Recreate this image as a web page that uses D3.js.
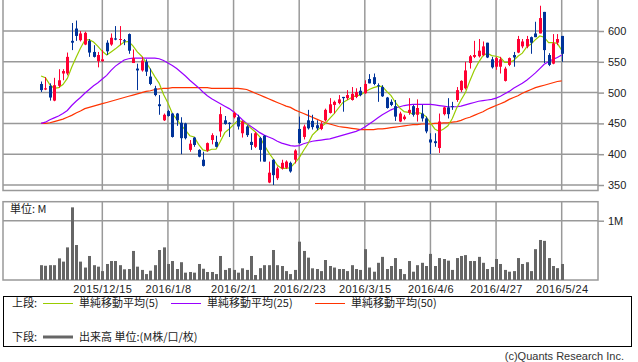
<!DOCTYPE html>
<html lang="ja">
<head>
<meta charset="utf-8">
<title>株価チャート</title>
<script src="https://cdn.jsdelivr.net/npm/d3@7"></script>
<style>
  * { margin: 0; padding: 0; }
  body { background: #fff; }
  svg { display: block; font-family: "Liberation Sans", Arial, sans-serif; }
  .grid line { stroke: #999; stroke-width: 1.5; }
  .frame { fill: none; stroke: #999; stroke-width: 1.5; }
  .axis text { font-size: 11px; fill: #222; }
  .axis line { stroke: #999; stroke-width: 1.5; }
  .jp { font-family: "Noto Sans CJK JP", sans-serif; font-size: 11px; fill: #222; }
  .ma { fill: none; stroke-width: 1.2; }
</style>
</head>
<body>
<div id="chart"></div>
<script>
var w = 638, h = 362;

// date ticks (index of trading day) and their labels
var tickIdx = [14, 29, 44, 59, 74, 89, 104, 119];
var tickLabels = ["2015/12/15", "2016/1/8", "2016/2/1", "2016/2/23", "2016/3/15", "2016/4/6", "2016/4/27", "2016/5/24"];
var priceTicks = [350, 400, 450, 500, 550, 600];

var opens = [514,505,511,487,511,531,531,584,604,585, 578,584,566,551,551,581,578,588,586,585,
  595,548,539,536,550,526,507,481,455,470, 466,466,451,450,407,427,407,391,406,423,
  420,437,455,451,460,460,434,445,420,412, 426,430,354,391,361,377,378,386,391,441,
  428,455,454,447,441,455,467,480,483,493, 491,488,493,503,499,522,525,512,509,492,
  485,478,453,457,467,478,464,466,458,424, 421,410,465,476,478,488,504,507,548,558,
  559,561,581,554,542,542,519,545,561,565, 575,575,590,596,596,631,561,547,581,592];
var highs = [518,525,515,524,538,538,565,613,617,600, 599,587,577,566,569,585,596,608,608,587,
  596,570,547,558,554,539,511,496,466,472, 467,467,460,451,423,428,408,404,419,434,
  430,477,462,452,469,464,455,447,434,436, 428,431,388,392,380,391,390,388,408,461,
  448,472,464,455,453,474,491,487,496,493, 504,509,507,509,520,530,531,515,512,493,
  489,488,469,464,491,480,489,480,461,434, 434,466,477,491,485,509,520,550,561,584,
  587,583,581,558,558,558,542,557,566,592, 587,592,591,615,641,631,564,595,595,592];
var lows = [501,504,487,486,508,520,528,569,584,583, 577,558,557,541,550,561,576,585,577,577,
  563,548,504,534,527,512,494,464,454,461, 427,446,400,424,404,412,395,380,404,416,
  411,428,448,428,458,440,427,428,407,410, 388,388,353,350,358,375,376,370,385,417,
  424,440,440,439,439,453,466,466,481,469, 488,487,491,494,498,515,512,485,493,474,
  478,454,452,455,464,461,453,453,434,400, 412,402,463,458,472,485,501,505,539,556,
  557,559,556,539,537,531,518,543,542,564, 572,572,563,590,596,548,543,546,577,550];
var closes = [504,507,492,512,520,535,558,581,592,596, 597,565,558,561,554,567,589,586,587,583,
  568,556,536,552,534,514,496,478,464,462, 428,455,426,426,417,415,396,381,418,431,
  412,465,449,449,467,445,453,431,415,434, 407,388,370,366,377,386,388,372,406,418,
  445,442,444,442,449,472,481,485,489,491, 496,498,501,496,514,515,514,511,494,475,
  480,461,466,461,472,464,475,458,437,419, 418,453,476,465,477,504,519,536,559,561,
  568,575,557,541,556,554,539,556,557,587, 583,587,581,590,621,569,545,580,587,563];

var ma5 = [527,524,513,507,508,513,523,541,557,572, 585,586,582,575,567,561,566,571,577,582,
  583,576,566,559,549,538,526,515,497,483, 466,457,447,439,430,428,416,407,405,408,
  408,421,435,441,448,455,453,449,442,436, 428,415,403,393,382,377,377,378,386,394,
  406,417,431,438,444,450,458,466,475,484, 488,492,495,496,501,505,508,510,510,502,
  495,484,475,469,468,465,468,466,461,451, 441,437,441,446,458,475,488,500,519,536,
  549,560,564,560,559,557,549,549,552,559, 564,574,579,586,592,590,581,581,580,569];
var ma25 = [450,452,456,459,462,466,471,479,486,492, 499,505,511,516,522,528,536,543,548,553,
  555,556,556,556,556,556,556,555,552,548, 544,539,533,527,520,514,508,501,495,490,
  486,482,478,474,469,463,456,450,445,440, 435,431,428,425,421,418,416,414,413,414,
  417,419,421,422,423,424,425,427,429,431, 433,435,437,440,444,449,454,459,464,468,
  472,475,477,479,480,481,481,481,481,481, 480,479,478,477,477,477,478,480,482,484,
  486,487,488,489,491,494,498,502,507,511, 515,520,526,532,539,546,550,554,557,561];
var ma50 = [450,450,451,453,455,457,460,463,467,470, 474,476,478,480,482,484,486,488,490,492,
  494,496,498,500,502,503,505,506,507,507, 508,508,508,508,508,508,508,508,508,507,
  507,507,507,507,507,507,506,505,502,499, 496,493,490,487,484,481,478,476,472,469,
  466,463,460,457,454,451,449,447,445,444, 443,442,441,440,440,440,440,441,441,442,
  443,444,445,446,447,448,448,449,449,449, 450,450,451,451,452,453,455,458,460,463,
  466,469,473,476,479,482,485,489,492,495, 499,502,505,508,510,512,514,516,518,519];

// volume, millions
var volume = [0.25,0.24,0.25,0.25,0.365,0.31,0.55,1.225,0.59,0.31, 0.21,0.405,0.25,0.225,0.15,0.27,0.32,0.32,0.25,0.18,
  0.185,0.49,0.225,0.17,0.10,0.157,0.25,0.506,0.55,0.27, 0.32,0.185,0.30,0.124,0.135,0.124,0.27,0.19,0.135,0.135,
  0.10,0.405,0.17,0.20,0.17,0.124,0.197,0.17,0.405,0.084, 0.20,0.25,0.25,0.506,0.25,0.236,0.15,0.10,0.17,0.646,
  0.49,0.377,0.197,0.185,0.15,0.337,0.236,0.21,0.185,0.185, 0.15,0.25,0.185,0.17,0.52,0.21,0.14,0.29,0.39,0.185,
  0.236,0.37,0.185,0.10,0.32,0.14,0.25,0.29,0.236,0.44, 0.236,0.37,0.354,0.326,0.17,0.37,0.405,0.42,0.32,0.32,
  0.39,0.29,0.185,0.22,0.354,0.27,0.17,0.14,0.15,0.37, 0.27,0.30,0.15,0.52,0.675,0.66,0.37,0.236,0.20,0.27];

var legendItems = [
  {label: "単純移動平均(5)", color: "#99cc00", x: 43},
  {label: "単純移動平均(25)", color: "#9900ff", x: 171},
  {label: "単純移動平均(50)", color: "#ff3300", x: 315}
];

var candles = opens.map(function(o, i) {
  return {i: i, o: o, h: highs[i], l: lows[i], c: closes[i], v: volume[i]};
});

var svg = d3.select("#chart").append("svg")
    .attr("width", w)
    .attr("height", h);

// scales
var left = 3, right = 598;
var x = d3.scaleLinear().domain([-8.7, 127.3]).range([left, right]);
var y = d3.scaleLinear().domain([350, 600]).range([185, 31]);
var yv = d3.scaleLinear().domain([0, 1]).range([280, 220.7]);

var upTop = -2, upBottom = 190.5;
var volTop = 201.7, volBottom = 280;

// grid
var grid = svg.append("g").attr("class", "grid");
grid.selectAll(".hp").data(priceTicks).enter().append("line")
    .attr("x1", left).attr("x2", right)
    .attr("y1", function(d) { return y(d); })
    .attr("y2", function(d) { return y(d); });
grid.selectAll(".vu").data(tickIdx).enter().append("line")
    .attr("x1", function(d) { return x(d); })
    .attr("x2", function(d) { return x(d); })
    .attr("y1", upTop).attr("y2", upBottom);
grid.selectAll(".vv").data(tickIdx).enter().append("line")
    .attr("x1", function(d) { return x(d); })
    .attr("x2", function(d) { return x(d); })
    .attr("y1", volTop).attr("y2", volBottom);
grid.append("line")
    .attr("x1", left).attr("x2", right)
    .attr("y1", yv(1)).attr("y2", yv(1));

// frames
svg.append("rect").attr("class", "frame")
    .attr("x", left).attr("y", upTop)
    .attr("width", right - left).attr("height", upBottom - upTop);
svg.append("rect").attr("class", "frame")
    .attr("x", left).attr("y", volTop)
    .attr("width", right - left).attr("height", volBottom - volTop);

// right price axis
var yAxis = d3.axisRight(y).tickValues(priceTicks).tickSize(6).tickPadding(4);
var ya = svg.append("g").attr("class", "axis")
    .attr("transform", "translate(" + right + ",0)")
    .call(yAxis);
ya.select(".domain").remove();

var vAxis = d3.axisRight(yv).tickValues([1]).tickSize(6).tickPadding(4)
    .tickFormat(function(d) { return d + "M"; });
var va = svg.append("g").attr("class", "axis")
    .attr("transform", "translate(" + right + ",0)")
    .call(vAxis);
va.select(".domain").remove();

// date labels
var xAxis = d3.axisBottom(x).tickValues(tickIdx).tickSize(0).tickPadding(5)
    .tickFormat(function(d, i) { return tickLabels[i]; });
var xa = svg.append("g").attr("class", "axis")
    .attr("transform", "translate(0," + volBottom + ")")
    .call(xAxis);
xa.select(".domain").remove();
xa.selectAll("text").style("letter-spacing", "0.4px");

// moving averages
function maLine(arr) {
  return d3.line()
    .x(function(d, i) { return x(i); })
    .y(function(d) { return y(d); })(arr);
}
svg.append("path").attr("class", "ma").attr("stroke", "#ff3300").attr("d", maLine(ma50));
svg.append("path").attr("class", "ma").attr("stroke", "#9900ff").attr("d", maLine(ma25));
svg.append("path").attr("class", "ma").attr("stroke", "#99cc00").attr("d", maLine(ma5));

// candles
function candleColor(d) { return d.c >= d.o ? "#ff0033" : "#003399"; }
var cg = svg.append("g").attr("class", "candles");
cg.selectAll("line").data(candles).enter().append("line")
    .attr("x1", function(d) { return Math.round(x(d.i)) + 0.5; })
    .attr("x2", function(d) { return Math.round(x(d.i)) + 0.5; })
    .attr("y1", function(d) { return y(d.h); })
    .attr("y2", function(d) { return y(d.l); })
    .attr("stroke", candleColor)
    .attr("stroke-width", 1);
cg.selectAll("rect").data(candles).enter().append("rect")
    .attr("x", function(d) { return Math.round(x(d.i)) - 1; })
    .attr("width", 3)
    .attr("y", function(d) { return y(Math.max(d.o, d.c)); })
    .attr("height", function(d) { return Math.max(1, Math.abs(y(d.o) - y(d.c))); })
    .attr("fill", candleColor);

// volume bars
svg.append("g").selectAll("rect").data(candles).enter().append("rect")
    .attr("x", function(d) { return Math.round(x(d.i)) - 1; })
    .attr("width", 3)
    .attr("y", function(d) { return yv(d.v); })
    .attr("height", function(d) { return yv(0) - yv(d.v); })
    .attr("fill", "#666");

svg.append("text").attr("class", "jp")
    .attr("x", 10).attr("y", 213)
    .text("単位: M");

// legend
var lg = svg.append("g");
lg.append("rect")
    .attr("x", 3.5).attr("y", 296.5)
    .attr("width", 628).attr("height", 50)
    .attr("fill", "none").attr("stroke", "#000").attr("stroke-width", 1);
lg.append("text").attr("class", "jp").attr("x", 12).attr("y", 307).text("上段:");
lg.append("text").attr("class", "jp").attr("x", 12).attr("y", 341).text("下段:");
var li = lg.selectAll(".li").data(legendItems).enter().append("g");
li.append("line")
    .attr("x1", function(d) { return d.x; })
    .attr("x2", function(d) { return d.x + 30; })
    .attr("y1", 303.5).attr("y2", 303.5)
    .attr("stroke", function(d) { return d.color; })
    .attr("stroke-width", 1);
li.append("text").attr("class", "jp")
    .attr("x", function(d) { return d.x + 36; })
    .attr("y", 307)
    .text(function(d) { return d.label; });
lg.append("line")
    .attr("x1", 43).attr("x2", 73)
    .attr("y1", 337).attr("y2", 337)
    .attr("stroke", "#666").attr("stroke-width", 3);
lg.append("text").attr("class", "jp").attr("x", 79).attr("y", 341).text("出来高 単位:(M株/口/枚)");

svg.append("text")
    .attr("x", 624).attr("y", 360)
    .attr("text-anchor", "end")
    .style("font-size", "11px")
    .style("fill", "#333")
    .text("(c)Quants Research Inc.");
</script>
</body>
</html>
